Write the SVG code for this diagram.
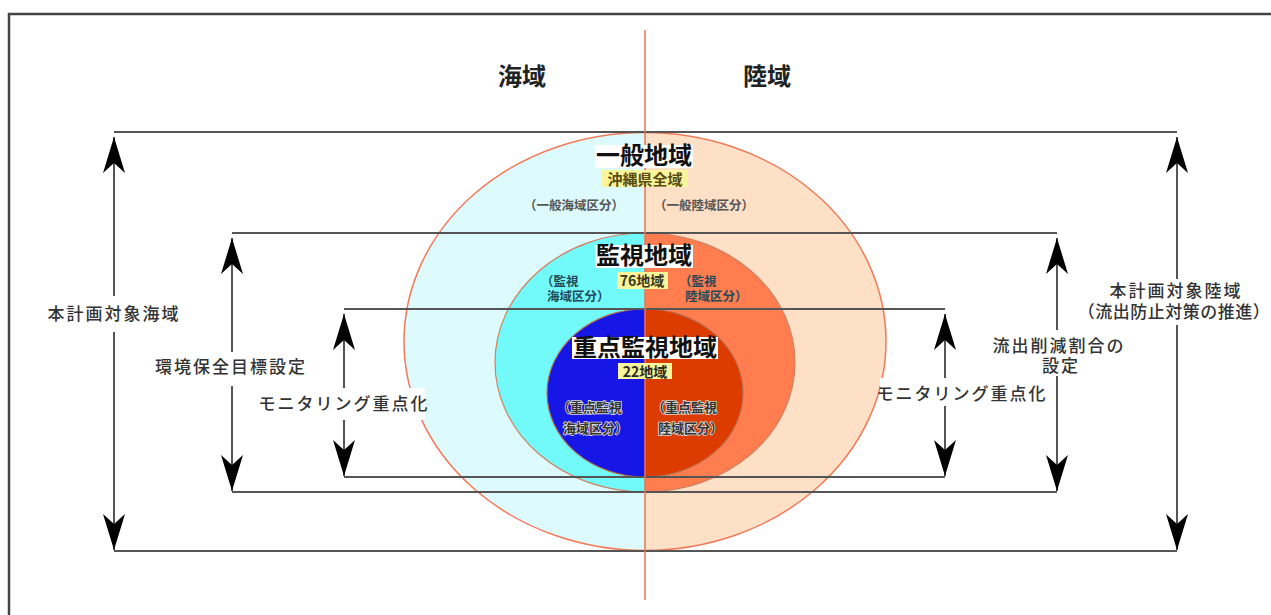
<svg xmlns="http://www.w3.org/2000/svg" width="1271" height="615" viewBox="0 0 1271 615">
<style>
.t{font-family:"Noto Sans CJK JP","Noto Sans CJK SC",sans-serif;fill:#333}
.side{font-size:17px;font-weight:500;letter-spacing:2px;text-anchor:middle}
.head{font-size:24px;font-weight:bold;text-anchor:middle;fill:#222}
.title{font-size:24px;font-weight:bold;text-anchor:middle;fill:#111}
.cnt{font-size:14px;font-weight:bold;text-anchor:middle;fill:#5a4a10}
.sub{font-size:12.5px;font-weight:bold;fill:#555;text-anchor:middle}
.sub2{font-size:12.5px;font-weight:bold;fill:#1f4a5a}
.sub3{font-size:13px;font-weight:bold;fill:#333;stroke:#ddd;stroke-width:1.6px;paint-order:stroke}
.ln{stroke:#555;stroke-width:2;fill:none}
.wb{fill:#fff}
.yb{fill:#f8f59a}
</style>
<defs>
<marker id="ah" viewBox="0 0 36 22" refX="36" refY="11" markerWidth="36" markerHeight="22" markerUnits="userSpaceOnUse" orient="auto-start-reverse">
<path d="M36,11 L0,0 L10,11 L0,22 Z" fill="#000"/>
</marker>
</defs>
<rect width="1271" height="615" fill="#fff"/>
<rect x="9" y="14" width="1280" height="620" fill="none" stroke="#444" stroke-width="2.5"/>

<g id="outer-region">
<path d="M645,132.5 A241,209 0 0 0 645,550.5 Z" fill="#ddfbfd"/>
<path d="M645,132.5 A241,209 0 0 1 645,550.5 Z" fill="#fde0c6"/>
<ellipse cx="645" cy="341.5" rx="241" ry="209" fill="none" stroke="#f07a5a" stroke-width="1.5"/>
</g>
<g id="middle-region">
<path d="M645,233 A150,129.5 0 0 0 645,492 Z" fill="#72fafa"/>
<path d="M645,233 A150,129.5 0 0 1 645,492 Z" fill="#ff7d4e"/>
<ellipse cx="645" cy="362.5" rx="150" ry="129.5" fill="none" stroke="#d08060" stroke-width="1.2"/>
</g>
<g id="inner-region">
<path d="M645,309 A98,84 0 0 0 645,477 Z" fill="#1616e6"/>
<path d="M645,309 A98,84 0 0 1 645,477 Z" fill="#dc3c00"/>
<ellipse cx="645" cy="393" rx="98" ry="84" fill="none" stroke="#b87050" stroke-width="1.2"/>
</g>

<g id="connectors">
<line class="ln" x1="114" y1="132" x2="1177" y2="132"/>
<line class="ln" x1="114" y1="551" x2="1177" y2="551"/>
<line class="ln" x1="232" y1="233" x2="1057" y2="233"/>
<line class="ln" x1="232" y1="492" x2="1057" y2="492"/>
<line class="ln" x1="344" y1="309" x2="945" y2="309"/>
<line class="ln" x1="344" y1="477" x2="945" y2="477"/>
<line class="ln" x1="114" y1="137" x2="114" y2="550" marker-start="url(#ah)" marker-end="url(#ah)"/>
<line class="ln" x1="1177" y1="137" x2="1177" y2="550" marker-start="url(#ah)" marker-end="url(#ah)"/>
<line class="ln" x1="232" y1="238" x2="232" y2="491" marker-start="url(#ah)" marker-end="url(#ah)"/>
<line class="ln" x1="1057" y1="238" x2="1057" y2="491" marker-start="url(#ah)" marker-end="url(#ah)"/>
<line class="ln" x1="344" y1="314" x2="344" y2="476" marker-start="url(#ah)" marker-end="url(#ah)"/>
<line class="ln" x1="945" y1="314" x2="945" y2="476" marker-start="url(#ah)" marker-end="url(#ah)"/>
<line x1="645" y1="30" x2="645" y2="600" stroke="#ef7050" stroke-width="1.5"/>
</g>

<g id="header-sea"><text class="t head" x="522" y="85">海域</text></g>
<g id="header-land"><text class="t head" x="767" y="85">陸域</text></g>

<g id="general-label">
<rect class="wb" x="595" y="145" width="98" height="23"/>
<text class="t title" x="644" y="164">一般地域</text>
<rect class="yb" x="602" y="170" width="86" height="17"/>
<text class="t cnt" x="645" y="185" style="font-size:15px">沖縄県全域</text>
<text class="t sub" x="574" y="210">（一般海域区分）</text>
<text class="t sub" x="704" y="210">（一般陸域区分）</text>
</g>

<g id="monitor-label">
<rect class="wb" x="595" y="245" width="98" height="23"/>
<text class="t title" x="644" y="264">監視地域</text>
<rect class="yb" x="617" y="272" width="51" height="17"/>
<text class="t cnt" x="642" y="286" style="fill:#3a3520">76地域</text>
<text class="t sub2" x="541" y="286">（監視<tspan x="547" dy="15">海域区分）</tspan></text>
<text class="t sub2" x="679" y="286">（監視<tspan x="685" dy="15">陸域区分）</tspan></text>
</g>

<g id="priority-label">
<rect class="wb" x="572" y="337" width="146" height="22"/>
<text class="t title" x="645" y="356">重点監視地域</text>
<rect class="yb" x="618" y="363" width="54" height="16"/>
<text class="t cnt" x="645" y="377" style="fill:#2a2a20">22地域</text>
<text class="t sub3" x="557" y="412">（重点監視<tspan x="563" dy="21">海域区分）</tspan></text>
<text class="t sub3" x="652" y="412">（重点監視<tspan x="658" dy="21">陸域区分）</tspan></text>
</g>

<g id="label-sea-target">
<rect class="wb" x="44" y="296" width="138" height="36"/>
<text class="t side" x="114" y="320">本計画対象海域</text>
</g>
<g id="label-env-target">
<rect class="wb" x="150" y="352" width="160" height="34"/>
<text class="t side" x="231" y="373">環境保全目標設定</text>
</g>
<g id="label-monitor-left">
<rect class="wb" x="262" y="388" width="163" height="32"/>
<text class="t side" x="344" y="410">モニタリング重点化</text>
</g>
<g id="label-monitor-right">
<rect class="wb" x="880" y="378" width="163" height="28"/>
<text class="t side" x="962" y="400">モニタリング重点化</text>
</g>
<g id="label-outflow-rate">
<rect class="wb" x="988" y="330" width="140" height="46"/>
<text class="t side" x="1059" y="352">流出削減割合の<tspan x="1061" dy="20">設定</tspan></text>
</g>
<g id="label-land-target">
<rect class="wb" x="1075" y="279" width="196" height="46"/>
<text class="t side" x="1176" y="297">本計画対象陸域<tspan x="1174" dy="21" style="letter-spacing:0.5px">（流出防止対策の推進）</tspan></text>
</g>
</svg>
